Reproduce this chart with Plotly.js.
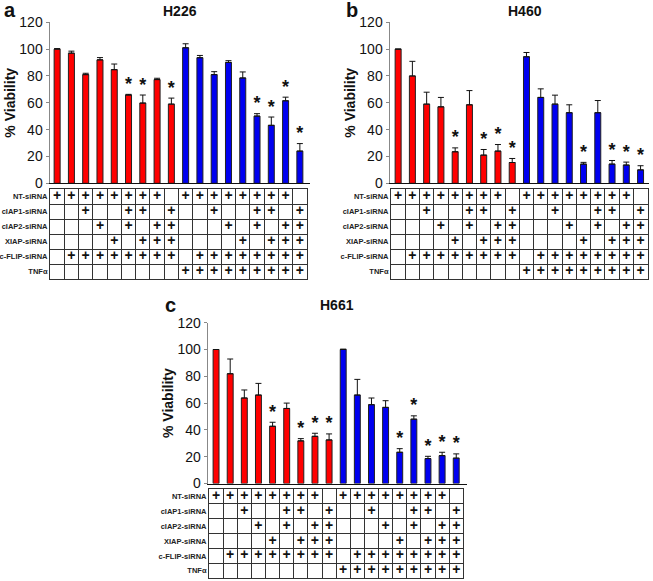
<!DOCTYPE html>
<html>
<head>
<meta charset="utf-8">
<script src="https://cdn.plot.ly/plotly-3.0.1.min.js"></script>
<style>html,body{margin:0;padding:0;background:#fff;}#chart{width:653px;height:581px;}</style>
</head>
<body>
<div id="chart"></div>
<script>
// ---------- DATA ----------
const rowLabels = ["NT-siRNA", "cIAP1-siRNA", "cIAP2-siRNA", "XIAP-siRNA", "c-FLIP-siRNA", "TNFα"];
const ntSiRNA    = [1,1,1,1,1,1,1,1,0, 1,1,1,1,1,1,1,1,0];
const ciap1SiRNA = [0,0,1,0,0,1,1,0,1, 0,0,1,0,0,1,1,0,1];
const ciap2SiRNA = [0,0,0,1,0,1,0,1,1, 0,0,0,1,0,1,0,1,1];
const xiapSiRNA  = [0,0,0,0,1,0,1,1,1, 0,0,0,0,1,0,1,1,1];
const cflipSiRNA = [0,1,1,1,1,1,1,1,1, 0,1,1,1,1,1,1,1,1];
const tnfAlpha   = [0,0,0,0,0,0,0,0,0, 1,1,1,1,1,1,1,1,1];

const h226Mean = [100, 97, 81, 92, 84.7, 65.8, 59.8, 77.3, 59, 101, 93.6, 81, 90.1, 78.5, 50.1, 43.2, 61.5, 24];
const h226Err  = [0.4, 1.5, 1, 1.7, 4.2, 0.5, 6, 1, 4.5, 3, 1.7, 2.2, 1.3, 4.5, 1.8, 6.2, 2.7, 5.6];
const h226Sig  = [0,0,0,0,0,1,1,0,1, 0,0,0,0,0,1,1,1,1];

const h460Mean = [100, 80, 59, 57, 23.5, 58.5, 21, 24, 15.5, 94.3, 64, 59, 52.6, 14.3, 52.6, 14.3, 13.6, 10];
const h460Err  = [0, 10.9, 8.9, 7, 2.9, 10.6, 4.2, 4.9, 3, 3.2, 6.4, 6.7, 5.9, 1.3, 9.1, 2.7, 2.2, 3.1];
const h460Sig  = [0,0,0,0,1,0,1,1,1, 0,0,0,0,1,0,1,1,1];

const h661Mean = [100, 81.9, 63.8, 66, 42.7, 56, 31.8, 35.2, 32.5, 100, 66, 58.8, 56.8, 23.3, 48, 18.6, 20.8, 18.9];
const h661Err  = [0, 11, 6, 8.7, 3, 4, 1.7, 2.3, 4.5, 0.3, 11.7, 5, 5, 2.7, 2.5, 1.7, 2.5, 3.2];
const h661Sig  = [0,0,0,0,1,0,1,1,1, 0,0,0,0,1,1,1,1,1];

// ---------- LAYOUT GEOMETRY (pixels) ----------
const W = 653, H = 581;
const fx = p => p / W;
const fy = p => 1 - p / H;
const FONT = "Arial, 'Liberation Sans', Helvetica, sans-serif";

const tableRows = [ntSiRNA, ciap1SiRNA, ciap2SiRNA, xiapSiRNA, cflipSiRNA, tnfAlpha];
const nCols = ntSiRNA.length;
const colIdx = ntSiRNA.map((_, i) => i + 1);
const barColors = tnfAlpha.map(t => t ? '#0000f0' : '#ff0000');

const panels = [
  {name: 'H226', letter: 'a', mean: h226Mean, err: h226Err, sig: h226Sig,
   axisX: 49.5, barRight: 310, tabL: 50, tabR: 307, y0: 183.3, y120: 22.3, tabT: 189, tabB: 279,
   titleX: 180, titleY: 11, letterX: 10, letterY: 10},
  {name: 'H460', letter: 'b', mean: h460Mean, err: h460Err, sig: h460Sig,
   axisX: 389.5, barRight: 648.5, tabL: 391, tabR: 647.7, y0: 183.3, y120: 22.3, tabT: 189, tabB: 279,
   titleX: 525, titleY: 11, letterX: 352, letterY: 10},
  {name: 'H661', letter: 'c', mean: h661Mean, err: h661Err, sig: h661Sig,
   axisX: 207.7, barRight: 466.7, tabL: 209, tabR: 463.3, y0: 483.5, y120: 322.7, tabT: 489, tabB: 578.3,
   titleX: 337, titleY: 305, letterX: 171, letterY: 305}
];

const data = [];
const layout = {
  width: W, height: H,
  margin: {l: 0, r: 0, t: 0, b: 0},
  paper_bgcolor: '#fff', plot_bgcolor: 'rgba(0,0,0,0)',
  showlegend: false,
  font: {family: FONT, color: '#111'},
  annotations: []
};

panels.forEach((p, k) => {
  const bx = 'x' + (2 * k + 1), by = 'y' + (2 * k + 1);
  const tx = 'x' + (2 * k + 2), ty = 'y' + (2 * k + 2);
  const bxName = 'xaxis' + (2 * k + 1), byName = 'yaxis' + (2 * k + 1);
  const txName = 'xaxis' + (2 * k + 2), tyName = 'yaxis' + (2 * k + 2);
  const colW = (p.tabR - p.tabL) / nCols;

  // bars
  data.push({
    type: 'bar', x: colIdx, y: p.mean, xaxis: bx, yaxis: by, width: 0.42,
    marker: {color: barColors, line: {color: '#222', width: 1}},
    error_y: {type: 'data', symmetric: false, array: p.err, arrayminus: p.err.map(() => 0),
              color: '#111', thickness: 1, width: 3},
    hoverinfo: 'skip'
  });
  // significance stars
  const sx = [], sy = [];
  p.sig.forEach((s, i) => { if (s) { sx.push(colIdx[i]); sy.push(p.mean[i] + p.err[i]); } });
  data.push({
    type: 'scatter', mode: 'text', x: sx, y: sy, text: sx.map(() => '*'),
    textposition: 'top center', xaxis: bx, yaxis: by,
    textfont: {family: FONT, size: 18, color: '#111', weight: 'bold'}, hoverinfo: 'skip'
  });
  // table plus signs
  const px = [], py = [];
  tableRows.forEach((row, r) => row.forEach((v, c) => { if (v) { px.push(colIdx[c]); py.push(r + 1); } }));
  data.push({
    type: 'scatter', mode: 'text', x: px, y: py, text: px.map(() => '+'),
    textposition: 'middle center', xaxis: tx, yaxis: ty,
    textfont: {family: FONT, size: 14, color: '#111', weight: 'bold'}, hoverinfo: 'skip'
  });

  layout[bxName] = {
    domain: [fx(p.axisX), fx(p.barRight)], anchor: by,
    range: [0.5 - (p.tabL - p.axisX) / colW, nCols + 0.5 + (p.barRight - p.tabR) / colW],
    showline: true, linecolor: '#111', linewidth: 1, showgrid: false, zeroline: false,
    showticklabels: false, ticks: '', fixedrange: true
  };
  layout[byName] = {
    domain: [fy(p.y0), fy(p.y120)], anchor: bx, range: [0, 120],
    tickmode: 'linear', tick0: 0, dtick: 20,
    showline: true, linecolor: '#888', linewidth: 1, ticks: 'outside', ticklen: 3, tickcolor: '#888',
    showgrid: false, zeroline: false,
    tickfont: {family: FONT, size: 14, color: '#111'},
    title: {text: '% Viability', font: {family: FONT, size: 14, color: '#111', weight: 'bold'}, standoff: 0}
  };
  layout[txName] = {
    domain: [fx(p.tabL), fx(p.tabR)], anchor: ty, range: [0.5, nCols + 0.5],
    tickmode: 'linear', tick0: 0.5, dtick: 1,
    showgrid: true, gridcolor: '#333', gridwidth: 1,
    showline: true, mirror: true, linecolor: '#333', linewidth: 1,
    zeroline: false, showticklabels: false, ticks: ''
  };
  layout[tyName] = {
    domain: [fy(p.tabB), fy(p.tabT)], anchor: tx, range: [tableRows.length + 0.5, 0.5],
    tickmode: 'array', tickvals: rowLabels.map((_, i) => i + 1), ticktext: rowLabels,
    showgrid: false, zeroline: false, ticks: '',
    minor: {tickmode: 'array', tickvals: rowLabels.map((_, i) => i + 0.5).concat([rowLabels.length + 0.5]),
            showgrid: true, gridcolor: '#333', gridwidth: 1},
    showline: true, mirror: true, linecolor: '#333', linewidth: 1,
    tickfont: {family: FONT, size: 7.5, color: '#222', weight: 'bold'}
  };

  layout.annotations.push({
    xref: 'paper', yref: 'paper', x: fx(p.titleX), y: fy(p.titleY), xanchor: 'center', yanchor: 'middle',
    text: p.name, showarrow: false, font: {family: FONT, size: 14, color: '#111', weight: 'bold'}
  });
  layout.annotations.push({
    xref: 'paper', yref: 'paper', x: fx(p.letterX), y: fy(p.letterY), xanchor: 'center', yanchor: 'middle',
    text: p.letter, showarrow: false, font: {family: FONT, size: 20, color: '#111', weight: 'bold'}
  });
});

Plotly.newPlot('chart', data, layout, {displayModeBar: false, staticPlot: true});
</script>
</body>
</html>
